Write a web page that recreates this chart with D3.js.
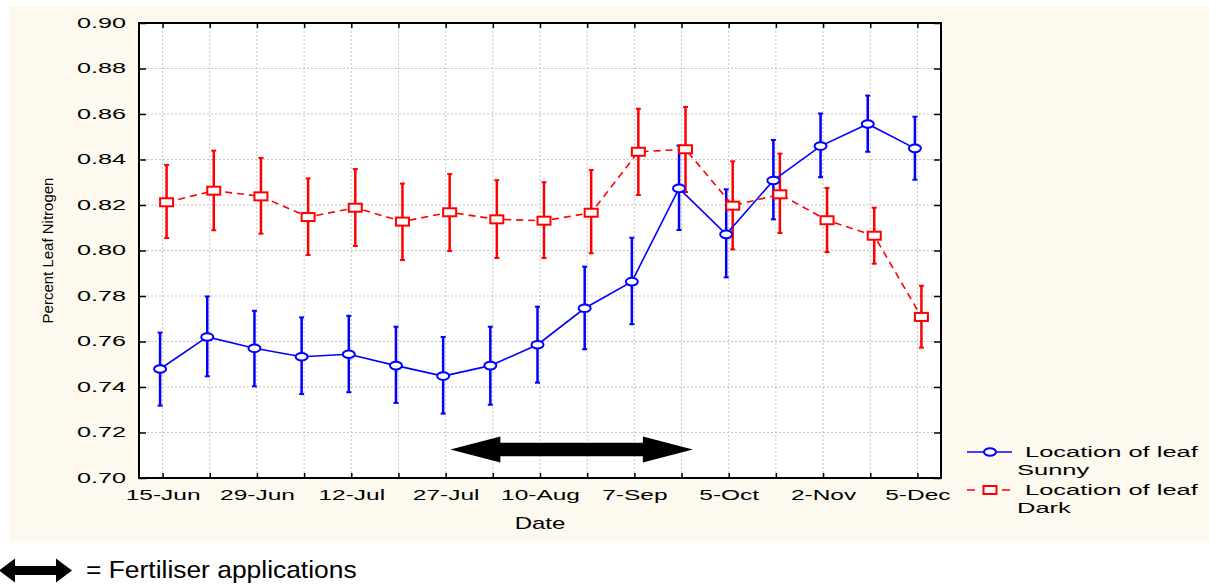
<!DOCTYPE html>
<html>
<head>
<meta charset="utf-8">
<script src="https://cdn.jsdelivr.net/npm/d3@7"></script>
<style>
  body { margin: 0; background: #fff; }
  svg { display: block; font-family: "Liberation Sans", Arial, sans-serif; }
</style>
</head>
<body>
<svg id="chart" width="1209" height="588"></svg>
<script>
// data (17 sampling dates, every other one labelled)
const tickLabels = ["15-Jun", "", "29-Jun", "", "12-Jul", "", "27-Jul", "", "10-Aug", "", "7-Sep", "", "5-Oct", "", "2-Nov", "", "5-Dec"];
const yTicks = [0.70, 0.72, 0.74, 0.76, 0.78, 0.80, 0.82, 0.84, 0.86, 0.88, 0.90];

const sunnyMean = [0.7479, 0.7620, 0.7570, 0.7533, 0.7544, 0.7494, 0.7448, 0.7494, 0.7586, 0.7746, 0.7863, 0.8273, 0.8071, 0.8308, 0.8459, 0.8556, 0.8449];
const sunnyLow  = [0.7318, 0.7447, 0.7403, 0.7369, 0.7377, 0.7330, 0.7283, 0.7322, 0.7419, 0.7566, 0.7676, 0.8090, 0.7882, 0.8137, 0.8322, 0.8434, 0.8311];
const sunnyHigh = [0.7639, 0.7798, 0.7735, 0.7706, 0.7713, 0.7665, 0.7620, 0.7665, 0.7753, 0.7929, 0.8056, 0.8461, 0.8269, 0.8486, 0.8602, 0.8681, 0.8588];

const darkMean = [0.8212, 0.8263, 0.8238, 0.8147, 0.8188, 0.8127, 0.8168, 0.8137, 0.8131, 0.8166, 0.8434, 0.8445, 0.8197, 0.8247, 0.8133, 0.8065, 0.7708];
const darkLow  = [0.8055, 0.8089, 0.8074, 0.7980, 0.8020, 0.7958, 0.7998, 0.7967, 0.7967, 0.7988, 0.8244, 0.8257, 0.8005, 0.8077, 0.7993, 0.7942, 0.7573];
const darkHigh = [0.8376, 0.8439, 0.8407, 0.8317, 0.8358, 0.8294, 0.8336, 0.8309, 0.8300, 0.8354, 0.8623, 0.8631, 0.8392, 0.8426, 0.8275, 0.8188, 0.7845];

// fertiliser period (in date index units) and the level the arrow sits at
const fertStart = 6.1;
const fertEnd = 11.24;
const fertLevel = 0.7125;

const svg = d3.select("#chart");

// beige panel behind the chart
svg.append("rect")
    .attr("x", 9).attr("y", 6)
    .attr("width", 1200).attr("height", 537)
    .attr("fill", "#fdf9ef");

const plot = { left: 139, right: 941, top: 23, bottom: 478 };

svg.append("rect")
    .attr("x", plot.left).attr("y", plot.top)
    .attr("width", plot.right - plot.left).attr("height", plot.bottom - plot.top)
    .attr("fill", "#fff");

const idx = d3.range(tickLabels.length);
const x = d3.scalePoint().domain(idx).range([plot.left, plot.right]).padding(0.5);
const xi = d3.scaleLinear().domain([0, idx.length - 1]).range([x(0), x(idx.length - 1)]);
const y = d3.scaleLinear().domain([0.70, 0.90]).range([plot.bottom, plot.top]);

// grid
const grid = svg.append("g").attr("stroke", "#c4c4c4").attr("stroke-dasharray", "2,2");
grid.selectAll(".gx").data(idx).enter().append("line")
    .attr("x1", d => x(d)).attr("x2", d => x(d))
    .attr("y1", plot.top).attr("y2", plot.bottom);
grid.selectAll(".gy").data(yTicks.slice(1, -1)).enter().append("line")
    .attr("x1", plot.left).attr("x2", plot.right)
    .attr("y1", d => y(d)).attr("y2", d => y(d));

// axes, ticks pointing inward
const xAxis = svg.append("g")
    .attr("transform", `translate(0,${plot.bottom})`)
    .call(d3.axisBottom(x).tickSize(-5).tickPadding(12).tickFormat(d => tickLabels[d]));
const yAxis = svg.append("g")
    .attr("transform", `translate(${plot.left},0)`)
    .call(d3.axisLeft(y).tickValues(yTicks).tickSize(-7).tickPadding(13).tickFormat(d3.format(".2f")));
svg.append("g")
    .attr("transform", `translate(0,${plot.top})`)
    .call(d3.axisTop(x).tickSize(-5).tickFormat(""));
svg.append("g")
    .attr("transform", `translate(${plot.right},0)`)
    .call(d3.axisRight(y).tickValues(yTicks).tickSize(-7).tickFormat(""));

svg.selectAll(".domain").remove();
svg.selectAll(".tick line").attr("stroke", "#000").attr("stroke-width", 1.5);

// the original fonts are rendered wide, so stretch the labels horizontally
xAxis.selectAll("text")
    .attr("font-size", 14).attr("font-family", null)
    .attr("transform", "scale(1.75,1)");
yAxis.selectAll("text")
    .attr("font-size", 14).attr("font-family", null)
    .attr("x", -13 / 1.8)
    .attr("transform", "scale(1.8,1)");
svg.selectAll(".tick text").attr("fill", "#000");

svg.append("rect")
    .attr("x", plot.left).attr("y", plot.top)
    .attr("width", plot.right - plot.left).attr("height", plot.bottom - plot.top)
    .attr("fill", "none").attr("stroke", "#000").attr("stroke-width", 2);

function stretchedText(txt, px, py, size, sx, anchor) {
  return svg.append("text")
      .attr("transform", `translate(${px},${py}) scale(${sx},1)`)
      .attr("font-size", size)
      .attr("text-anchor", anchor || "start")
      .text(txt);
}

stretchedText("Date", (plot.left + plot.right) / 2, 529, 16, 1.5, "middle");

svg.append("text")
    .attr("transform", `translate(53,${(plot.top + plot.bottom) / 2}) rotate(-90)`)
    .attr("text-anchor", "middle")
    .attr("font-size", 15)
    .text("Percent Leaf Nitrogen");

// series
const series = [
  { name: "Sunny", mean: sunnyMean, low: sunnyLow, high: sunnyHigh, color: "#0000ff", dx: -2.5, dash: null, shape: "circle" },
  { name: "Dark", mean: darkMean, low: darkLow, high: darkHigh, color: "#ff0000", dx: 4, dash: "7,5", shape: "square" }
];

series.forEach(s => {
  const g = svg.append("g");
  g.selectAll(".bar").data(idx).enter().append("line")
      .attr("x1", d => x(d) + s.dx).attr("x2", d => x(d) + s.dx)
      .attr("y1", d => y(s.low[d])).attr("y2", d => y(s.high[d]))
      .attr("stroke", s.color).attr("stroke-width", 2.5);
  [s.low, s.high].forEach(arr => {
    g.selectAll(null).data(idx).enter().append("line")
        .attr("x1", d => x(d) + s.dx - 2.5).attr("x2", d => x(d) + s.dx + 2.5)
        .attr("y1", d => y(arr[d])).attr("y2", d => y(arr[d]))
        .attr("stroke", s.color).attr("stroke-width", 2);
  });
});

series.forEach(s => {
  const line = d3.line().x(d => x(d) + s.dx).y(d => y(s.mean[d]));
  svg.append("path")
      .datum(idx)
      .attr("d", line)
      .attr("fill", "none")
      .attr("stroke", s.color)
      .attr("stroke-width", 1.6)
      .attr("stroke-dasharray", s.dash);
});

function marker(sel, shape, color) {
  if (shape === "circle") {
    return sel.append("ellipse").attr("rx", 6).attr("ry", 3.8)
        .attr("fill", "#fff").attr("stroke", color).attr("stroke-width", 2);
  }
  return sel.append("rect").attr("x", -6.5).attr("y", -4).attr("width", 13).attr("height", 8)
      .attr("fill", "#fff").attr("stroke", color).attr("stroke-width", 2);
}

series.forEach(s => {
  const pts = svg.selectAll(null).data(idx).enter().append("g")
      .attr("transform", d => `translate(${x(d) + s.dx},${y(s.mean[d])})`);
  marker(pts, s.shape, s.color);
});

// fertiliser arrow
function arrowPath(x0, x1, yc, hl, hh, sh) {
  return `M${x0},${yc} L${x0 + hl},${yc - hh} L${x0 + hl},${yc - sh} L${x1 - hl},${yc - sh} ` +
         `L${x1 - hl},${yc - hh} L${x1},${yc} L${x1 - hl},${yc + hh} L${x1 - hl},${yc + sh} ` +
         `L${x0 + hl},${yc + sh} L${x0 + hl},${yc + hh} Z`;
}
svg.append("path")
    .attr("d", arrowPath(xi(fertStart), xi(fertEnd), y(fertLevel), 50, 13, 6.7))
    .attr("fill", "#000");

// legend
const legend = [
  { s: series[0], cy: 452, label: "Location of leaf", sub: "Sunny" },
  { s: series[1], cy: 490, label: "Location of leaf", sub: "Dark" }
];
legend.forEach(l => {
  svg.append("line")
      .attr("x1", 967).attr("x2", 1012).attr("y1", l.cy).attr("y2", l.cy)
      .attr("stroke", l.s.color).attr("stroke-width", 1.6)
      .attr("stroke-dasharray", l.s.dash ? "8,27" : null);
  marker(svg.append("g").attr("transform", `translate(990,${l.cy})`), l.s.shape, l.s.color);
  stretchedText(l.label, 1025, l.cy + 5, 15, 1.7);
  stretchedText(l.sub, 1017, l.cy + 23, 15, 1.7);
});

// note under the chart
svg.append("path")
    .attr("d", arrowPath(-1, 72, 570.5, 16, 12, 4.5))
    .attr("fill", "#000");
stretchedText("= Fertiliser applications", 86, 578, 24, 1.1);
</script>
</body>
</html>
